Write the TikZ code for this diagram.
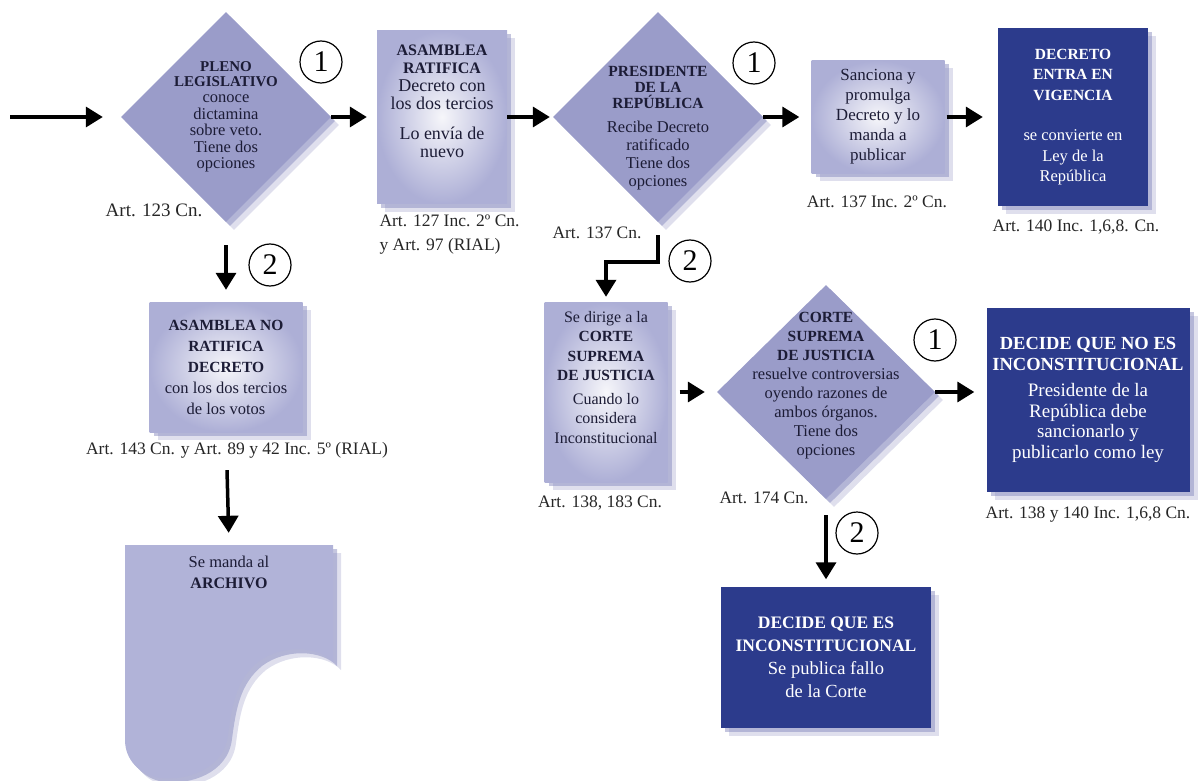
\documentclass[tikz,border=0pt]{standalone}
\usepackage{fontspec}
\setmainfont{Liberation Serif}
\usepackage{tikz}
\usetikzlibrary{shapes.geometric, arrows.meta, shadows}
\usepackage{xcolor}

\definecolor{lila}{HTML}{9A9CC9}
\definecolor{lilaclaro}{HTML}{ADAFD6}
\definecolor{centroclaro}{HTML}{F6F6FA}
\definecolor{azul}{HTML}{2C3B8C}
\definecolor{archivocol}{HTML}{B1B3D8}
\definecolor{sombracol}{HTML}{7E81B9}
\definecolor{tinta}{HTML}{1C1C36}

\newcommand{\titulo}[2][15.5]{{\fontsize{#1}{#1}\selectfont\bfseries #2}}

\tikzset{
  flecha/.style={line width=3.5pt, -{Triangle[length=17pt,width=20pt]}},
  sombra/.style={drop shadow={shadow xshift=4pt, shadow yshift=-4pt, fill=sombracol, opacity=.45},
                 drop shadow={shadow xshift=8pt, shadow yshift=-8pt, fill=sombracol, opacity=.25}},
  caja/.style={rectangle, sombra, inner color=centroclaro, outer color=lilaclaro, text=tinta, align=center, inner sep=0pt},
  oscura/.style={rectangle, sombra, fill=azul, text=white, align=center, inner sep=0pt},
  rombo/.style={diamond, sombra, fill=lila, minimum width=210, minimum height=210, inner sep=0pt},
  rombotexto/.style={text=tinta, align=center},
  opcion/.style={circle, draw, line width=1.2pt, fill=white, minimum size=42, inner sep=0pt, font=\fontsize{30}{30}\selectfont},
  art/.style={text=black!85, font=\fontsize{17.5}{24}\selectfont},
}

\begin{document}
\begin{tikzpicture}[x=1pt, y=-1pt]
\useasboundingbox (0,0) rectangle (1200,781);

% fila superior
\coordinate (inicio) at (10,117);
\node[rombo, label={[rombotexto, font=\fontsize{16.5}{16.5}\selectfont]center:{\titulo[15]{PLENO}\\[-1.5pt]\titulo[15]{LEGISLATIVO}\\conoce\\dictamina\\sobre veto.\\Tiene dos\\opciones}}] (pleno) at (226,117) {};
\node[caja, minimum width=130, minimum height=173, font=\fontsize{18}{18}\selectfont] (ratifica) at (442,117)
  {\titulo[16]{ASAMBLEA}\\\titulo[16]{RATIFICA}\\Decreto con\\los dos tercios\\[12pt]Lo envía de\\nuevo\\[14pt]\mbox{}};
\node[rombo, label={[rombotexto, yshift=-11pt, font=\fontsize{16.5}{18}\selectfont]center:{\titulo{PRESIDENTE}\\[-2pt]\titulo{DE LA}\\[-2pt]\titulo{REPÚBLICA}\\[6pt]Recibe Decreto\\ratificado\\Tiene dos\\opciones}}] (presidente) at (658,117) {};
\node[caja, minimum width=133, minimum height=113, font=\fontsize{17}{20}\selectfont] (sanciona) at (878,117)
  {Sanciona y\\promulga\\Decreto y lo\\manda a\\publicar};
\node[oscura, minimum width=150, minimum height=178, font=\fontsize{16.5}{20.5}\selectfont] (vigencia) at (1073,117)
  {\titulo{DECRETO}\\\titulo{ENTRA EN}\\\titulo{VIGENCIA}\\[20pt]se convierte en\\Ley de la\\República};

% segunda fila
\node[caja, minimum width=153, minimum height=130, font=\fontsize{16.5}{21}\selectfont] (noratifica) at (226,367)
  {\titulo{ASAMBLEA NO}\\\titulo{RATIFICA}\\\titulo{DECRETO}\\con los dos tercios\\de los votos};
\fill[archivocol, sombra] (125,545) -- (333,545) -- (333,662) .. controls (318,646) and (282,644) .. (258,662)
  .. controls (236,680) and (232,705) .. (228,735) .. controls (224,770) and (185,781) .. (160,778)
  .. controls (140,775) and (125,760) .. (125,740) -- cycle;
\node[minimum width=208, minimum height=54, align=center, text=tinta, font=\fontsize{16.5}{21}\selectfont] (archivo) at (229,572)
  {Se manda al\\\titulo[16]{ARCHIVO}};
\node[caja, minimum width=123, minimum height=180, font=\fontsize{16}{19.5}\selectfont] (dirige) at (606,392)
  {Se dirige a la\\\titulo{CORTE}\\\titulo{SUPREMA}\\\titulo{DE JUSTICIA}\\[4pt]Cuando lo\\considera\\Inconstitucional\\[10pt]\mbox{}};
\node[rombo, minimum width=218, minimum height=214, label={[rombotexto, yshift=6pt, font=\fontsize{16.5}{19}\selectfont]center:{\titulo{CORTE}\\\titulo{SUPREMA}\\\titulo{DE JUSTICIA}\\resuelve controversias\\oyendo razones de\\ambos órganos.\\Tiene dos\\opciones}}] (corte) at (826,392) {};
\node[oscura, minimum width=203, minimum height=184, font=\fontsize{19}{20.5}\selectfont] (noinconst) at (1088,400)
  {\titulo[18.5]{DECIDE QUE NO ES}\\\titulo[18.5]{INCONSTITUCIONAL}\\[6pt]Presidente de la\\República debe\\sancionarlo y\\publicarlo como ley};
\node[oscura, minimum width=210, minimum height=141, font=\fontsize{18.5}{23}\selectfont] (inconst) at (826,657)
  {\titulo[17.5]{DECIDE QUE ES}\\\titulo[17.5]{INCONSTITUCIONAL}\\Se publica fallo\\de la Corte};

% opciones
\node[opcion] (uno-a) at (321,62) {1};
\node[opcion] (uno-b) at (754,63) {1};
\node[opcion] (dos-a) at (270,265) {2};
\node[opcion] (dos-b) at (690,261) {2};
\node[opcion] (uno-c) at (935,340) {1};
\node[opcion] (dos-c) at (857,533) {2};

% articulos
\node[art, font=\fontsize{19}{24}\selectfont] (art123) at (154,210) {Art. 123 Cn.};
\node[art, anchor=west, align=left] (art127) at (376,235) {Art. 127 Inc. 2º Cn.\\y Art. 97 (RIAL)};
\node[art] (art137) at (597,233) {Art. 137 Cn.};
\node[art] (art137b) at (877,202) {Art. 137 Inc. 2º Cn.};
\node[art] (art140) at (1076,227) {Art. 140 Inc. 1,6,8. Cn.};
\node[art] (art143) at (237,450) {Art. 143 Cn. y Art. 89 y 42 Inc. 5º (RIAL)};
\node[art] (art138) at (600,503) {Art. 138, 183 Cn.};
\node[art] (art174) at (764,498) {Art. 174 Cn.};
\node[art] (art138b) at (1088,515) {Art. 138 y 140 Inc. 1,6,8 Cn.};

% flechas
\draw[flecha, shorten >=18pt] (inicio) -- (pleno.west);
\draw[flecha, shorten >=10pt] (pleno.east) -- (ratifica.west);
\draw[flecha, shorten >=3pt] (ratifica.east) -- (presidente.west);
\draw[flecha, shorten >=12pt] (presidente.east) -- (sanciona.west);
\draw[flecha, shorten <=2pt, shorten >=15pt] (sanciona.east) -- (vigencia.west);
\draw[flecha, shorten <=23pt, shorten >=12pt] (pleno.south) -- (noratifica.north);
\draw[flecha, shorten <=38pt, shorten >=12pt] (noratifica.south) -- (archivo.north);
\draw[flecha, shorten >=5pt] ([yshift=-13pt]presidente.south) -- ++(0,27) -| (dirige.north);
\draw[flecha, shorten <=12pt, shorten >=12pt] (dirige.east) -- (corte.west);
\draw[flecha, shorten >=12pt] (corte.east) -- (corte.east -| noinconst.west);
\draw[flecha, shorten <=16pt, shorten >=7pt] (corte.south) -- (inconst.north);
\end{tikzpicture}
\end{document}
